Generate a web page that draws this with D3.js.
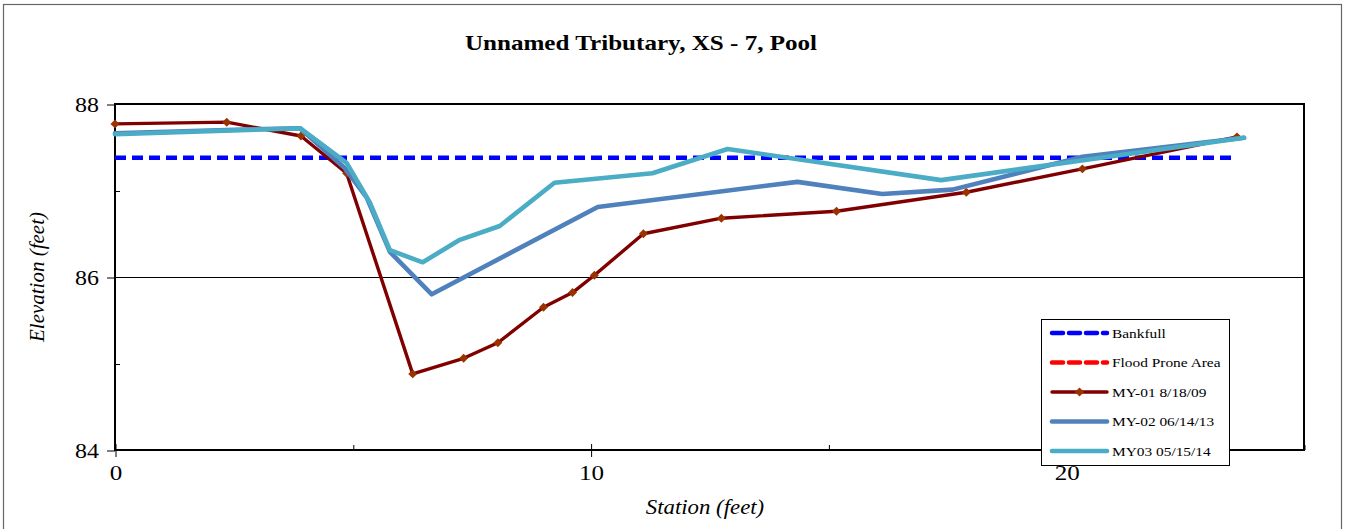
<!DOCTYPE html>
<html>
<head>
<meta charset="utf-8">
<script src="https://cdn.jsdelivr.net/npm/d3@7"></script>
<style>
  html, body { margin: 0; padding: 0; background: #fff; }
  svg { display: block; }
  text { font-family: "Liberation Serif", "Times New Roman", serif; fill: #000; }
</style>
</head>
<body>
<svg id="chart" width="1346" height="529"></svg>
<script>
// Cross-section survey data: station (ft) vs elevation (ft)
const title = "Unnamed Tributary, XS - 7, Pool";
const xTicks = [0, 10, 20];
const xMinorTicks = [5, 15, 25];
const yTicks = [84, 86, 88];
const yMinorTicks = [85, 87];

const bankfullStation = [0, 23.5];
const bankfullElev = [87.38, 87.38];

const my01Station = [0, 2.35, 3.91, 4.87, 6.26, 7.33, 8.05, 9.01, 9.62, 10.08, 11.11, 12.75, 15.17, 17.90, 20.34, 23.59];
const my01Elev    = [87.77, 87.79, 87.63, 87.20, 84.88, 85.06, 85.24, 85.65, 85.82, 86.02, 86.50, 86.68, 86.76, 86.98, 87.25, 87.62];

const my02Station = [0, 2.35, 3.89, 4.83, 5.29, 5.78, 6.66, 10.15, 14.35, 16.13, 17.61, 20.34, 23.74];
const my02Elev    = [87.66, 87.70, 87.72, 87.26, 86.92, 86.29, 85.80, 86.81, 87.10, 86.96, 87.01, 87.39, 87.61];

const my03Station = [0, 3.89, 4.87, 5.36, 5.78, 6.47, 7.25, 8.09, 9.24, 11.30, 12.88, 17.37, 23.74];
const my03Elev    = [87.65, 87.72, 87.32, 86.86, 86.31, 86.17, 86.43, 86.59, 87.09, 87.20, 87.48, 87.12, 87.61];

const legendLabels = ["Bankfull", "Flood Prone Area", "MY-01 8/18/09", "MY-02 06/14/13", "MY03 05/15/14"];

// Text in this chart is set slightly wide
const WIDE = 1.14;

const svg = d3.select("#chart");

// Outer chart frame
svg.append("rect")
  .attr("x", 3.5).attr("y", 4.5)
  .attr("width", 1338).attr("height", 540)
  .attr("fill", "#fff").attr("stroke", "#666").attr("stroke-width", 1.2);

const plot = { left: 115, right: 1304, top: 104, bottom: 450 };

const x = d3.scaleLinear().domain([0, 25]).range([plot.left, plot.right]);
const y = d3.scaleLinear().domain([84, 88]).range([plot.bottom, plot.top]);

function wideText(sel, px, py) {
  return sel.attr("transform", `translate(${px},${py}) scale(${WIDE},1)`);
}

// Title
svg.append("text")
  .call(wideText, 641, 50)
  .attr("text-anchor", "middle")
  .attr("font-size", 22).attr("font-weight", "bold")
  .text(title);

// Gridline at the middle major tick
svg.append("g")
  .selectAll("line")
  .data(yTicks.filter(d => d !== 84 && d !== 88))
  .join("line")
  .attr("x1", plot.left).attr("x2", plot.right)
  .attr("y1", d => y(d) + 0.5).attr("y2", d => y(d) + 0.5)
  .attr("stroke", "#000").attr("stroke-width", 1);

// Y axis (major ticks outward, minor ticks inward)
const yAxis = svg.append("g").attr("transform", `translate(${plot.left},0.5)`)
  .call(d3.axisLeft(y).tickValues(yTicks).tickSize(8).tickPadding(0).tickFormat(d3.format("d")));
yAxis.select(".domain").remove();
yAxis.selectAll("line").attr("stroke", "#000");
yAxis.selectAll("text")
  .attr("x", null).attr("dy", "0.35em")
  .attr("transform", `translate(-16,0) scale(${WIDE},1)`)
  .attr("font-size", 21).attr("font-family", "Liberation Serif, serif");

svg.append("g").attr("transform", `translate(${plot.left},0.5)`)
  .call(d3.axisRight(y).tickValues(yMinorTicks).tickSize(5).tickFormat(""))
  .call(g => g.select(".domain").remove())
  .selectAll("line").attr("stroke", "#000");

// X axis (major ticks crossing, minor ticks inward)
const xAxis = svg.append("g").attr("transform", `translate(0.5,${plot.bottom})`)
  .call(d3.axisBottom(x).tickValues(xTicks).tickSize(7).tickPadding(0).tickFormat(d3.format("d")));
xAxis.select(".domain").remove();
xAxis.selectAll("line").attr("stroke", "#000").attr("y1", -6);
xAxis.selectAll("text")
  .attr("y", null).attr("dy", "0.71em")
  .attr("transform", `translate(0,14) scale(${WIDE},1)`)
  .attr("font-size", 22).attr("font-family", "Liberation Serif, serif");

svg.append("g").attr("transform", `translate(0.5,${plot.bottom})`)
  .call(d3.axisTop(x).tickValues(xMinorTicks).tickSize(5).tickFormat(""))
  .call(g => g.select(".domain").remove())
  .selectAll("line").attr("stroke", "#000");

// Plot area border
svg.append("rect")
  .attr("x", plot.left).attr("y", plot.top)
  .attr("width", plot.right - plot.left).attr("height", plot.bottom - plot.top)
  .attr("fill", "none").attr("stroke", "#000").attr("stroke-width", 2);

// Axis titles
svg.append("text")
  .attr("transform", `translate(44,${(plot.top + plot.bottom) / 2}) rotate(-90)`)
  .attr("text-anchor", "middle")
  .attr("font-size", 21).attr("font-style", "italic")
  .text("Elevation (feet)");

svg.append("text")
  .call(wideText, 705, 514)
  .attr("text-anchor", "middle")
  .attr("font-size", 20).attr("font-style", "italic")
  .text("Station (feet)");

const line = d3.line().x(d => x(d[0])).y(d => y(d[1]));
const zip = (a, b) => a.map((v, i) => [v, b[i]]);

const plotG = svg.append("g");

// Bankfull
plotG.append("path")
  .datum(zip(bankfullStation, bankfullElev))
  .attr("d", line)
  .attr("fill", "none").attr("stroke", "#0000ff")
  .attr("stroke-width", 4.5).attr("stroke-dasharray", "11,6").attr("stroke-linecap", "butt");

// MY-01
const my01 = zip(my01Station, my01Elev);
plotG.append("path")
  .datum(my01).attr("d", line)
  .attr("fill", "none").attr("stroke", "#800000").attr("stroke-width", 3.4)
  .attr("stroke-linejoin", "round");
const diamond = d3.symbol().type(d3.symbolSquare).size(40);
plotG.append("g").selectAll("path")
  .data(my01).join("path")
  .attr("d", diamond)
  .attr("transform", d => `translate(${x(d[0])},${y(d[1])}) rotate(45)`)
  .attr("fill", "#993300");

// MY-02
plotG.append("path")
  .datum(zip(my02Station, my02Elev)).attr("d", line)
  .attr("fill", "none").attr("stroke", "#4f81bd").attr("stroke-width", 4.6)
  .attr("stroke-linejoin", "round").attr("stroke-linecap", "round");

// MY03
plotG.append("path")
  .datum(zip(my03Station, my03Elev)).attr("d", line)
  .attr("fill", "none").attr("stroke", "#4bacc6").attr("stroke-width", 4.6)
  .attr("stroke-linejoin", "round").attr("stroke-linecap", "round");

// Legend
const legend = svg.append("g").attr("transform", "translate(1041,319)");
legend.append("rect")
  .attr("x", 0.5).attr("y", 0.5).attr("width", 188).attr("height", 146)
  .attr("fill", "#fff").attr("stroke", "#000").attr("stroke-width", 1);

const legendStyles = [
  { color: "#0000ff", width: 4.5, dash: "11,6", marker: false },
  { color: "#ff0000", width: 4.5, dash: "11,6", marker: false },
  { color: "#800000", width: 3.4, dash: null, marker: true },
  { color: "#4f81bd", width: 4.6, dash: null, marker: false },
  { color: "#4bacc6", width: 4.6, dash: null, marker: false }
];

legendLabels.forEach((label, i) => {
  const st = legendStyles[i];
  const cy = 14 + i * 29.5;
  const g = legend.append("g");
  g.append("line")
    .attr("x1", 11).attr("x2", 66).attr("y1", cy).attr("y2", cy)
    .attr("stroke", st.color).attr("stroke-width", st.width)
    .attr("stroke-dasharray", st.dash).attr("stroke-linecap", "round");
  if (st.marker) {
    g.append("path").attr("d", diamond)
      .attr("transform", `translate(38.5,${cy}) rotate(45)`)
      .attr("fill", "#993300");
  }
  g.append("text")
    .call(wideText, 71, cy)
    .attr("dy", "0.35em")
    .attr("font-size", 13.5)
    .text(label);
});
</script>
</body>
</html>
